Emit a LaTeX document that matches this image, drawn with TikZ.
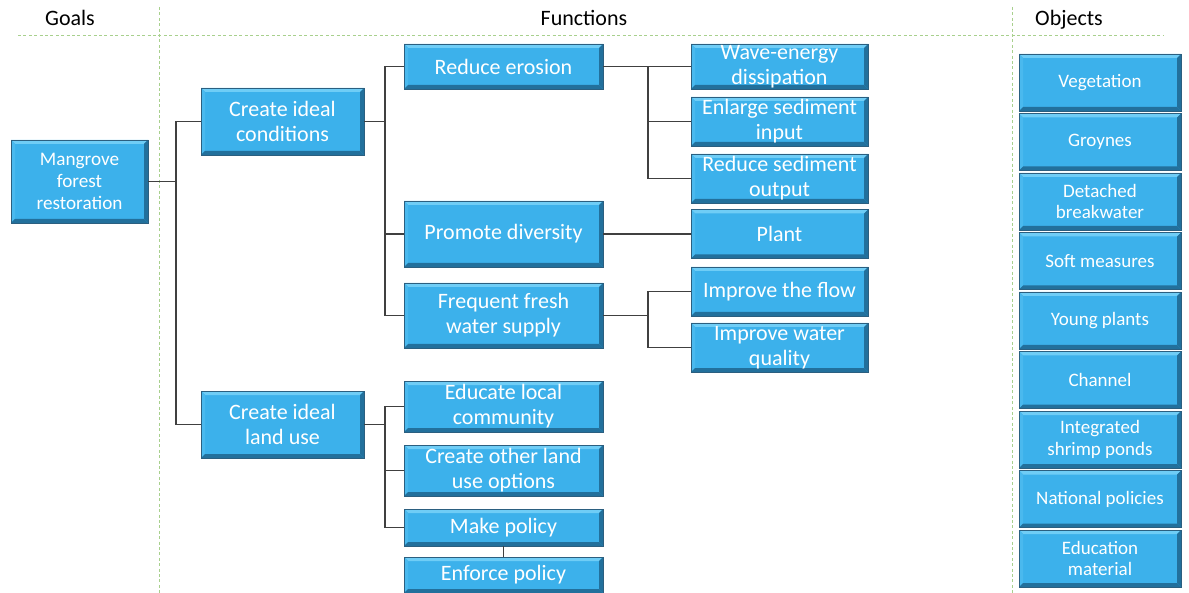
\documentclass[tikz,border=0pt]{standalone}
\usepackage{fontspec}
\setmainfont{Carlito}
\usepackage{xcolor}
\usepackage{tikz}
\definecolor{boxblue}{HTML}{3CB1EB}
\definecolor{boxlight}{HTML}{6FCDF6}
\definecolor{boxside}{HTML}{4AB9EE}
\definecolor{boxdark}{HTML}{22709C}
\definecolor{boxedge}{HTML}{2B5F80}
\definecolor{linkgray}{HTML}{404040}
\definecolor{sepgreen}{HTML}{A8D08D}

\tikzset{
  bevel/.style={fill=boxblue, draw=boxedge, line width=.4pt, text=white,
    inner sep=0pt, align=center,
    path picture={
      \fill[boxlight] (path picture bounding box.north west)
        -- (path picture bounding box.north east)
        -- ([xshift=-2pt,yshift=-2pt]path picture bounding box.north east)
        -- ([xshift=2pt,yshift=-2pt]path picture bounding box.north west) -- cycle;
      \fill[boxside] (path picture bounding box.north west)
        -- (path picture bounding box.south west)
        -- ([xshift=2pt,yshift=2pt]path picture bounding box.south west)
        -- ([xshift=2pt,yshift=-2pt]path picture bounding box.north west) -- cycle;
      \fill[boxdark] (path picture bounding box.north east)
        -- (path picture bounding box.south east)
        -- ([xshift=-2pt,yshift=2pt]path picture bounding box.south east)
        -- ([xshift=-2pt,yshift=-2pt]path picture bounding box.north east) -- cycle;
      \fill[boxdark] (path picture bounding box.south west)
        -- (path picture bounding box.south east)
        -- ([xshift=-2pt,yshift=2pt]path picture bounding box.south east)
        -- ([xshift=2pt,yshift=2pt]path picture bounding box.south west) -- cycle;
    }},
  goalbox/.style={bevel, minimum width=68.5pt, minimum height=41.5pt,
    font=\fontsize{9.6}{10.8}\selectfont},
  subbox/.style={bevel, minimum width=81.5pt, minimum height=33.5pt,
    font=\fontsize{11}{12.5}\selectfont},
  funcbox/.style={bevel, minimum width=99.5pt, font=\fontsize{11}{12.5}\selectfont},
  leafbox/.style={bevel, minimum width=88.5pt, minimum height=24.5pt,
    font=\fontsize{11}{12.5}\selectfont},
  objbox/.style={bevel, minimum width=81pt, minimum height=28.5pt,
    font=\fontsize{9.5}{10.8}\selectfont},
  header/.style={font=\fontsize{11}{12}\selectfont, text=black, anchor=base},
  link/.style={draw=linkgray, line width=.6pt},
  sepline/.style={draw=sepgreen, line width=.5pt, dash pattern=on 1.5pt off 1.2pt},
}

\begin{document}
\begin{tikzpicture}[x=0.5pt,y=-0.5pt]
  \useasboundingbox (0,0) rectangle (1189,593);

  % column separators
  \draw[sepline] (18,36) -- (1163,36);
  \draw[sepline] (159,7) -- (159,593);
  \draw[sepline] (1012,7) -- (1012,593);

  \node[header] (hgoals) at (70,26) {Goals};
  \node[header] (hfunc) at (584,26) {Functions};
  \node[header] (hobj) at (1069,26) {Objects};

  % goal and first level
  \node[goalbox] (mangrove) at (79.5,181.5) {Mangrove\\forest\\restoration};
  \node[subbox] (cond) at (282.5,121.5) {Create ideal\\conditions};
  \node[subbox] (use) at (282.5,424.5) {Create ideal\\land use};

  % functions
  \node[funcbox, minimum height=22.5pt] (erosion) at (503.5,66.5) {Reduce erosion};
  \node[funcbox, minimum height=33pt] (diversity) at (503.5,234) {Promote diversity};
  \node[funcbox, minimum height=32.5pt] (fresh) at (503.5,315.5) {Frequent fresh\\water supply};
  \node[funcbox, minimum height=25.5pt] (educate) at (503.5,406.5) {Educate local\\community};
  \node[funcbox, minimum height=25.5pt] (options) at (503.5,470.5) {Create other land\\use options};
  \node[funcbox, minimum height=18.5pt] (makepol) at (503.5,527.5) {Make policy};
  \node[funcbox, minimum height=18pt] (enforce) at (503.5,575) {Enforce policy};

  % sub-functions
  \node[leafbox, minimum height=22.5pt] (wave) at (779.5,66.5) {Wave-energy\\dissipation};
  \node[leafbox] (sedin) at (779.5,121.5) {Enlarge sediment\\input};
  \node[leafbox] (sedout) at (779.5,178.5) {Reduce sediment\\output};
  \node[leafbox] (plant) at (779.5,234) {Plant};
  \node[leafbox] (flow) at (779.5,291.5) {Improve the flow};
  \node[leafbox] (quality) at (779.5,347.5) {Improve water\\quality};

  % objects
  \foreach \nm/\txt [count=\i] in {veg/Vegetation, groynes/Groynes,
      breakw/{Detached\\breakwater}, soft/Soft measures, young/Young plants,
      channel/Channel, shrimp/{Integrated\\shrimp ponds},
      policies/National policies, edumat/{Education\\material}}
    \node[objbox] (\nm) at (1100,{82.5+59.5*(\i-1)}) {\txt};

  % tree connectors
  \coordinate (ja) at (176,0);
  \coordinate (jb) at (385,0);
  \coordinate (jc) at (648,0);
  \draw[link] (mangrove.east) -- (mangrove.east -| ja);
  \draw[link] (cond.west) -| (ja |- use.west) -- (use.west);

  \draw[link] (cond.east) -- (cond.east -| jb);
  \draw[link] (erosion.west) -| (jb |- fresh.west) -- (fresh.west);
  \draw[link] (diversity.west) -- (diversity.west -| jb);

  \draw[link] (erosion.east) -- (wave.west);
  \draw[link] (jc |- erosion.east) |- (sedout.west);
  \draw[link] (jc |- sedin.west) -- (sedin.west);
  \draw[link] (diversity.east) -- (plant.west);
  \draw[link] (fresh.east) -- (fresh.east -| jc);
  \draw[link] (flow.west) -| (jc |- quality.west) -- (quality.west);

  \draw[link] (use.east) -- (use.east -| jb);
  \draw[link] (educate.west) -| (jb |- makepol.west) -- (makepol.west);
  \draw[link] (options.west) -- (options.west -| jb);
  \draw[link] (makepol.south) -- (enforce.north);
\end{tikzpicture}
\end{document}
